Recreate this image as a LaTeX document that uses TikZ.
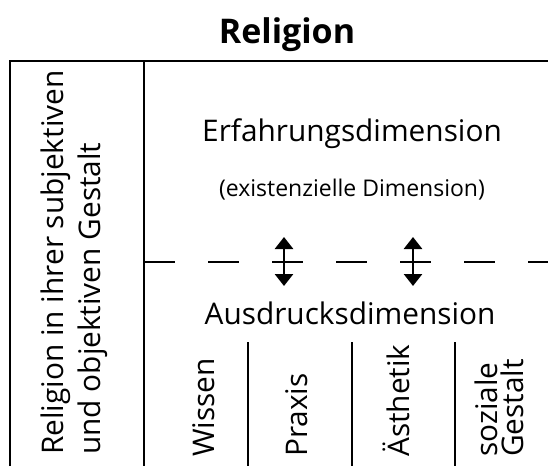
\documentclass[tikz,border=0pt]{standalone}
\usepackage{fontspec}
\setmainfont{Open Sans}
\usetikzlibrary{arrows.meta}
\begin{document}
\begin{tikzpicture}[x=1pt,y=-1pt,
  big/.style={font=\fontsize{29.8}{36}\selectfont, inner sep=0pt},
  small/.style={font=\fontsize{23}{28}\selectfont, inner sep=0pt},
  vtext/.style={big, rotate=90, anchor=base west},
  border/.style={line width=2.2pt},
  divider/.style={line width=1.3pt},
  dbl/.style={line width=2.8pt, {Triangle[length=12pt,width=18pt]}-{Triangle[length=12pt,width=18pt]}}]
\useasboundingbox (0,0) rectangle (548,466);
% title
\node[font=\fontsize{34}{40}\selectfont\bfseries, inner sep=0pt, anchor=base] (title) at (287,43) {Religion};
% frame
\coordinate (bl) at (10,466);
\coordinate (tl) at (10,61);
\coordinate (tr) at (548,61);
\draw[border] (bl) -- (tl) -- (tr);
\coordinate (dtop) at (144,61);
\coordinate (dbot) at (144,466);
\draw[divider] (dtop) -- (dbot);
% dashed separator
\coordinate (sepl) at (144,262);
\coordinate (sepr) at (548,262);
\draw[divider, dash pattern=on 31pt off 33pt] (sepl) -- (sepr);
% left column text
\node[vtext] (l1) at (63,455) {Religion in ihrer subjektiven};
\node[vtext] (l2) at (100,455) {und objektiven Gestalt};
% upper part
\node[big, anchor=base] (erf) at (352,141) {Erfahrungsdimension};
\node[small, anchor=base] (exi) at (352,196) {(existenzielle Dimension)};
% arrows
\coordinate (a1t) at (284,237);
\coordinate (a1b) at (284,286);
\coordinate (a2t) at (413,237);
\coordinate (a2b) at (413,286);
\draw[dbl] (a1t) -- (a1b);
\draw[dbl] (a2t) -- (a2b);
% lower part
\node[big, anchor=base] (aus) at (350,324) {Ausdrucksdimension};
\foreach \x/\n in {248/c1,352/c2,455/c3}{
  \coordinate (\n t) at (\x,342);
  \coordinate (\n b) at (\x,466);
  \draw[divider] (\n t) -- (\n b);
}
\node[vtext] (wis) at (214,457) {Wissen};
\node[vtext] (pra) at (307,457) {Praxis};
\node[vtext] (aes) at (409,457) {Ästhetik};
\node[vtext] (soz) at (497,457) {soziale};
\node[vtext] (ges) at (523,457) {Gestalt};
\end{tikzpicture}
\end{document}
